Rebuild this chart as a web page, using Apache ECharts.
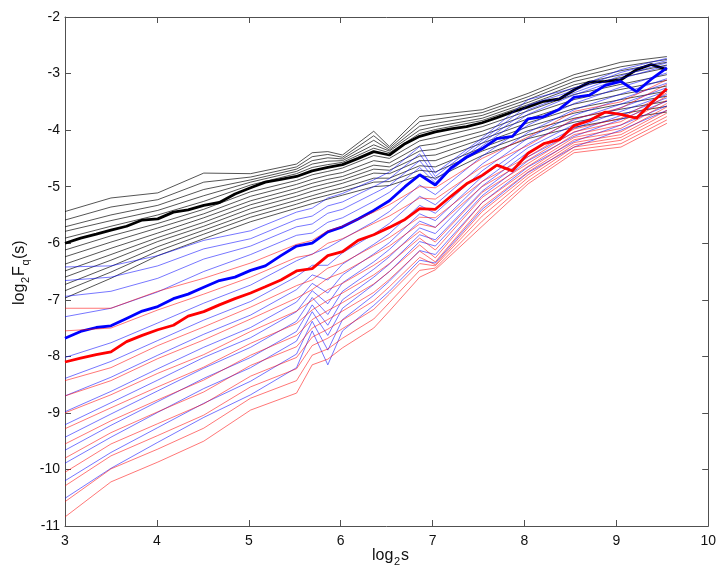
<!DOCTYPE html>
<html>
<head>
<meta charset="utf-8">
<script src="https://cdn.jsdelivr.net/npm/echarts@6/dist/echarts.min.js"></script>
<style>
  html, body { margin: 0; padding: 0; background: #fff; }
  #chart { width: 719px; height: 568px; }
</style>
</head>
<body>
<div id="chart"></div>
<script>
// log2 s for the thick (q = 2) curves
const xThick = [3.00, 3.17, 3.34, 3.50, 3.67, 3.84, 4.01, 4.18, 4.34, 4.51, 4.68, 4.85, 5.02, 5.18, 5.35, 5.52, 5.69, 5.86, 6.02, 6.19,
  6.36, 6.53, 6.70, 6.86, 7.03, 7.20, 7.37, 7.54, 7.70, 7.87, 8.04, 8.21, 8.38, 8.54, 8.71, 8.88, 9.05, 9.22, 9.38, 9.55]
const blackThick = [-6.00, -5.91, -5.84, -5.77, -5.70, -5.59, -5.57, -5.45, -5.41, -5.33, -5.28, -5.13, -5.02, -4.92, -4.87, -4.82, -4.72, -4.66, -4.61, -4.50,
  -4.38, -4.44, -4.24, -4.11, -4.03, -3.98, -3.94, -3.87, -3.78, -3.68, -3.59, -3.49, -3.45, -3.29, -3.15, -3.14, -3.11, -2.93, -2.84, -2.93]
const blueThick = [-7.68, -7.56, -7.49, -7.46, -7.33, -7.20, -7.12, -6.98, -6.90, -6.78, -6.66, -6.60, -6.48, -6.40, -6.22, -6.05, -6.00, -5.80, -5.71, -5.57,
  -5.42, -5.25, -5.00, -4.79, -4.97, -4.67, -4.48, -4.33, -4.15, -4.11, -3.80, -3.76, -3.63, -3.42, -3.38, -3.21, -3.14, -3.32, -3.10, -2.90]
const redThick = [-8.10, -8.03, -7.97, -7.92, -7.74, -7.63, -7.53, -7.45, -7.29, -7.21, -7.09, -6.98, -6.88, -6.77, -6.65, -6.49, -6.45, -6.22, -6.15, -5.95,
  -5.85, -5.72, -5.58, -5.39, -5.40, -5.17, -4.95, -4.80, -4.62, -4.72, -4.41, -4.24, -4.17, -3.92, -3.83, -3.68, -3.72, -3.79, -3.52, -3.27]

// log2 s for the thin curves (other q values)
const xThin = [3.00, 3.50, 4.01, 4.51, 5.02, 5.52, 5.69, 5.86, 6.02, 6.36, 6.53, 6.86, 7.03, 7.54, 8.04, 8.54, 9.05, 9.55]

const blackUpper = [
  [-5.44, -5.20, -5.11, -4.76, -4.77, -4.60, -4.40, -4.38, -4.44, -4.02, -4.29, -3.76, -3.73, -3.64, -3.35, -3.02, -2.80, -2.70],
  [-5.59, -5.36, -5.23, -4.92, -4.83, -4.65, -4.47, -4.43, -4.48, -4.10, -4.32, -3.85, -3.81, -3.69, -3.41, -3.08, -2.88, -2.75],
  [-5.71, -5.50, -5.33, -5.05, -4.88, -4.69, -4.54, -4.49, -4.51, -4.18, -4.35, -3.93, -3.88, -3.74, -3.46, -3.14, -2.95, -2.80],
  [-5.79, -5.60, -5.42, -5.16, -4.92, -4.73, -4.60, -4.55, -4.54, -4.26, -4.37, -4.00, -3.94, -3.79, -3.51, -3.20, -3.02, -2.85],
  [-5.91, -5.70, -5.50, -5.26, -4.97, -4.77, -4.66, -4.61, -4.57, -4.32, -4.40, -4.06, -3.99, -3.83, -3.55, -3.25, -3.07, -2.90]
]
const blackLower = [
  [-6.12, -5.87, -5.65, -5.40, -5.09, -4.89, -4.79, -4.73, -4.67, -4.45, -4.50, -4.19, -4.13, -3.94, -3.66, -3.37, -3.19, -3.02],
  [-6.24, -5.98, -5.73, -5.48, -5.17, -4.96, -4.87, -4.80, -4.75, -4.54, -4.58, -4.28, -4.24, -4.02, -3.73, -3.46, -3.28, -3.12],
  [-6.37, -6.09, -5.82, -5.55, -5.25, -5.03, -4.94, -4.87, -4.82, -4.62, -4.65, -4.37, -4.34, -4.09, -3.80, -3.54, -3.37, -3.22],
  [-6.49, -6.20, -5.90, -5.63, -5.32, -5.10, -5.01, -4.94, -4.88, -4.69, -4.71, -4.46, -4.44, -4.16, -3.87, -3.62, -3.46, -3.31],
  [-6.60, -6.30, -5.97, -5.70, -5.39, -5.17, -5.08, -5.01, -4.94, -4.76, -4.77, -4.54, -4.54, -4.23, -3.94, -3.70, -3.54, -3.40],
  [-6.73, -6.41, -6.06, -5.77, -5.47, -5.24, -5.16, -5.08, -5.02, -4.85, -4.85, -4.63, -4.65, -4.31, -4.01, -3.79, -3.63, -3.49],
  [-6.84, -6.51, -6.14, -5.84, -5.54, -5.31, -5.22, -5.15, -5.08, -4.92, -4.91, -4.71, -4.74, -4.37, -4.08, -3.86, -3.71, -3.58],
  [-6.97, -6.62, -6.22, -5.92, -5.62, -5.38, -5.30, -5.22, -5.15, -5.00, -4.98, -4.80, -4.85, -4.45, -4.15, -3.95, -3.80, -3.68]
]

const blueUpper = [
  [-6.42, -6.40, -6.22, -5.95, -5.78, -5.45, -5.38, -5.20, -5.12, -4.88, -4.74, -4.29, -4.76, -4.14, -3.46, -3.26, -2.93, -2.73],
  [-6.66, -6.60, -6.40, -6.10, -5.92, -5.58, -5.52, -5.34, -5.27, -5.00, -4.86, -4.42, -4.82, -4.18, -3.56, -3.30, -2.98, -2.77],
  [-6.94, -6.85, -6.62, -6.28, -6.05, -5.71, -5.66, -5.47, -5.40, -5.12, -4.98, -4.54, -4.88, -4.23, -3.64, -3.34, -3.04, -2.81],
  [-7.30, -7.15, -6.86, -6.50, -6.20, -5.86, -5.82, -5.63, -5.55, -5.26, -5.10, -4.66, -4.93, -4.28, -3.72, -3.38, -3.09, -2.86]
]
const blueLower = [
  [-8.02, -7.76, -7.41, -7.06, -6.74, -6.31, -6.19, -6.08, -5.93, -5.62, -5.44, -4.97, -5.14, -4.46, -3.91, -3.53, -3.24, -2.99],
  [-8.39, -8.09, -7.72, -7.36, -7.03, -6.59, -6.39, -6.39, -6.17, -5.84, -5.65, -5.17, -5.32, -4.60, -4.04, -3.64, -3.36, -3.09],
  [-8.70, -8.37, -7.98, -7.61, -7.27, -6.82, -6.56, -6.65, -6.37, -6.02, -5.83, -5.33, -5.47, -4.72, -4.14, -3.74, -3.45, -3.17],
  [-8.98, -8.62, -8.22, -7.84, -7.49, -7.04, -6.71, -6.88, -6.56, -6.19, -5.99, -5.48, -5.60, -4.82, -4.24, -3.82, -3.54, -3.25],
  [-9.21, -8.82, -8.42, -8.02, -7.67, -7.21, -6.84, -7.07, -6.70, -6.33, -6.11, -5.61, -5.72, -4.91, -4.31, -3.90, -3.60, -3.31],
  [-9.43, -9.02, -8.61, -8.21, -7.84, -7.38, -6.96, -7.26, -6.85, -6.46, -6.24, -5.73, -5.83, -4.99, -4.39, -3.97, -3.67, -3.37],
  [-9.66, -9.22, -8.80, -8.39, -8.02, -7.56, -7.09, -7.45, -7.00, -6.60, -6.37, -5.85, -5.94, -5.08, -4.47, -4.04, -3.74, -3.43],
  [-9.89, -9.43, -8.99, -8.57, -8.20, -7.73, -7.21, -7.63, -7.15, -6.73, -6.50, -5.97, -6.05, -5.16, -4.54, -4.11, -3.81, -3.49],
  [-10.20, -9.70, -9.26, -8.83, -8.44, -7.96, -7.38, -7.89, -7.35, -6.92, -6.67, -6.13, -6.20, -5.28, -4.65, -4.20, -3.91, -3.57],
  [-10.51, -9.98, -9.52, -9.08, -8.68, -8.20, -7.55, -8.15, -7.55, -7.10, -6.85, -6.30, -6.35, -5.40, -4.75, -4.30, -4.00, -3.65]
]

const redUpper = [
  [-7.15, -7.15, -6.85, -6.62, -6.35, -6.02, -5.95, -5.78, -5.70, -5.45, -5.32, -5.00, -5.02, -4.50, -4.12, -3.67, -3.50, -3.11],
  [-7.55, -7.50, -7.18, -6.90, -6.60, -6.25, -6.20, -6.00, -5.92, -5.65, -5.52, -5.20, -5.22, -4.65, -4.27, -3.80, -3.61, -3.19]
]
const redLower = [
  [-8.43, -8.20, -7.81, -7.48, -7.13, -6.75, -6.65, -6.44, -6.35, -6.05, -5.90, -5.54, -5.55, -4.91, -4.47, -3.98, -3.79, -3.34],
  [-8.70, -8.43, -8.04, -7.71, -7.34, -6.97, -6.82, -6.62, -6.52, -6.21, -6.05, -5.66, -5.72, -5.00, -4.53, -4.03, -3.85, -3.40],
  [-9.00, -8.68, -8.30, -7.97, -7.56, -7.20, -7.01, -6.82, -6.71, -6.39, -6.21, -5.79, -5.98, -5.10, -4.59, -4.08, -3.91, -3.47],
  [-9.28, -8.91, -8.54, -8.19, -7.77, -7.42, -7.18, -7.01, -6.88, -6.56, -6.36, -5.91, -6.12, -5.19, -4.64, -4.13, -3.97, -3.53],
  [-9.55, -9.14, -8.77, -8.42, -7.98, -7.63, -7.35, -7.19, -7.05, -6.72, -6.50, -6.03, -6.26, -5.28, -4.70, -4.17, -4.03, -3.59],
  [-9.80, -9.35, -8.98, -8.63, -8.16, -7.83, -7.50, -7.35, -7.20, -6.87, -6.64, -6.14, -6.33, -5.36, -4.74, -4.22, -4.08, -3.65],
  [-10.05, -9.55, -9.19, -8.84, -8.35, -8.02, -7.66, -7.52, -7.36, -7.02, -6.77, -6.25, -6.38, -5.44, -4.79, -4.26, -4.13, -3.70],
  [-10.29, -9.76, -9.40, -9.04, -8.54, -8.22, -7.81, -7.68, -7.51, -7.17, -6.90, -6.36, -6.40, -5.52, -4.84, -4.30, -4.18, -3.76],
  [-10.57, -9.99, -9.64, -9.27, -8.74, -8.43, -7.98, -7.87, -7.68, -7.34, -7.05, -6.48, -6.44, -5.61, -4.90, -4.35, -4.24, -3.82],
  [-10.84, -10.22, -9.87, -9.50, -8.95, -8.65, -8.15, -8.05, -7.85, -7.50, -7.20, -6.60, -6.47, -5.70, -4.95, -4.40, -4.30, -3.88]
]

const font = 'Liberation Sans, Arial, sans-serif'
const axisColor = '#505050'

function pairs (xs, ys) {
  return xs.map((x, i) => [x, ys[i]])
}
function thinLine (ys, color) {
  return { type: 'line', data: pairs(xThin, ys), symbol: 'none', silent: true,
    lineStyle: { width: 0.9, color: color }, itemStyle: { color: color } }
}
function thickLine (ys, color) {
  return { type: 'line', data: pairs(xThick, ys), symbol: 'none', silent: true,
    lineStyle: { width: 2.8, color: color }, itemStyle: { color: color } }
}
// axis title pieces: main text and lowered subscript
function txt (s, x, sub) {
  return { type: 'text', x: x, y: sub ? 8 : 0,
    style: { text: s, font: (sub ? '11px ' : '16px ') + font, fill: '#111' } }
}

let series = []
blackUpper.concat(blackLower).forEach(ys => series.push(thinLine(ys, 'rgba(0,0,0,0.75)')))
series.push(thickLine(blackThick, '#000'))
blueUpper.concat(blueLower).forEach(ys => series.push(thinLine(ys, 'rgba(0,0,255,0.6)')))
series.push(thickLine(blueThick, '#0000ff'))
redUpper.concat(redLower).forEach(ys => series.push(thinLine(ys, 'rgba(255,0,0,0.6)')))
series.push(thickLine(redThick, '#ff0000'))

const tickStyle = { inside: true, length: 6, lineStyle: { color: axisColor } }
const lineStyleAxis = { show: true, lineStyle: { color: axisColor, width: 1 } }

let charts = echarts.init(document.getElementById('chart'))
let options = {
  animation: false,
  grid: { left: 65, right: 8, top: 17, bottom: 42 },
  xAxis: [
    { type: 'value', min: 3, max: 10, interval: 1, position: 'bottom',
      axisLine: lineStyleAxis, axisTick: tickStyle, splitLine: { show: false },
      axisLabel: { color: '#111', fontSize: 14, fontFamily: font, margin: 8 } },
    { type: 'value', min: 3, max: 10, interval: 1, position: 'top',
      axisLine: lineStyleAxis, axisTick: tickStyle, splitLine: { show: false },
      axisLabel: { show: false } }
  ],
  yAxis: [
    { type: 'value', min: -11, max: -2, interval: 1, position: 'left',
      axisLine: lineStyleAxis, axisTick: tickStyle, splitLine: { show: false },
      axisLabel: { color: '#111', fontSize: 14, fontFamily: font, margin: 5 } },
    { type: 'value', min: -11, max: -2, interval: 1, position: 'right',
      axisLine: lineStyleAxis, axisTick: tickStyle, splitLine: { show: false },
      axisLabel: { show: false } }
  ],
  graphic: [
    { type: 'group', x: 372, y: 548, children: [
      txt('log', 0), txt('2', 22, true), txt('s', 29)
    ] },
    { type: 'group', x: 12, y: 305, rotation: Math.PI / 2, children: [
      txt('log', 0), txt('2', 22, true), txt('F', 29), txt('q', 39.5, true), txt('(s)', 46)
    ] }
  ],
  series: series
}
charts.setOption(options)
</script>
</body>
</html>
